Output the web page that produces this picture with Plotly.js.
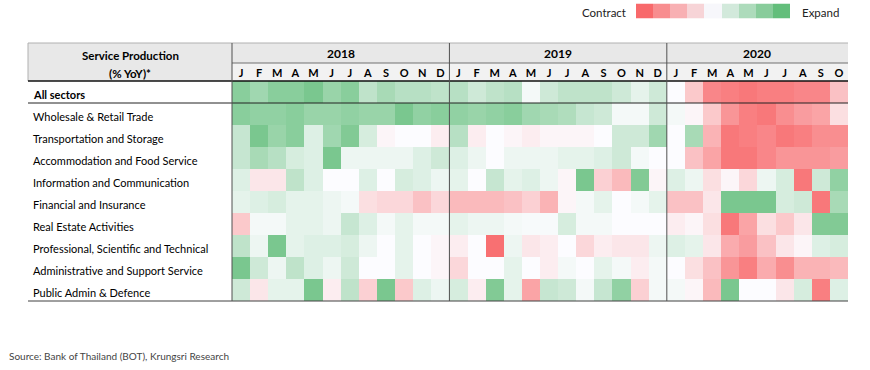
<!DOCTYPE html>
<html><head><meta charset="utf-8">
<script src="https://cdn.plot.ly/plotly-3.0.1.min.js"></script>
<style>body{margin:0;background:#fff}#chart{width:870px;height:370px}</style>
</head><body><div id="chart"></div>
<script>
// ---- data ----
const years = ['2018', '2019', '2020'];
const months2018 = ['J','F','M','A','M','J','J','A','S','O','N','D'];
const months2019 = ['J','F','M','A','M','J','J','A','S','O','N','D'];
const months2020 = ['J','F','M','A','M','J','J','A','S','O'];
const sectors = ['All sectors','Wholesale & Retail Trade','Transportation and Storage','Accommodation and Food Service','Information and Communication','Financial and Insurance','Real Estate Activities','Professional, Scientific and Technical','Administrative and Support Service','Public Admin & Defence'];

// relative growth score (-1 = strongest contraction, +1 = strongest expansion)
const allSectors      = [0.75,0.6,0.75,0.75,0.85,0.65,0.75,0.4,0.55,0.45,0.45,0.4,  0.45,0.3,0.4,0.45,0.05,0.3,0.4,0.4,0.4,0.3,0.15,0.3,  0.0,-0.35,-0.8,-0.85,-0.9,-0.85,-0.85,-0.8,-0.8,-0.4];
const wholesale       = [0.75,0.7,0.7,0.75,0.65,0.65,0.7,0.65,0.65,0.85,0.7,0.75,  0.7,0.65,0.7,0.75,0.6,0.55,0.5,0.35,0.3,0.05,0.05,0.3,  0.05,-0.05,-0.35,-0.7,-0.85,-0.9,-0.75,-0.65,-0.6,-0.2];
const transportation  = [0.35,0.85,0.65,0.75,0.2,0.6,0.8,0.25,-0.05,0.0,0.0,-0.1,  0.45,-0.1,0.0,-0.05,-0.1,-0.05,-0.05,-0.05,0.0,0.3,0.3,0.6,  0.0,0.55,-0.5,-0.9,-0.85,-0.8,-0.9,-0.85,-0.75,-0.75];
const accommodation   = [0.35,0.55,0.45,0.25,0.2,0.85,0.1,0.1,0.1,0.1,0.2,0.3,  0.2,0.1,0.0,0.1,0.1,0.1,0.15,0.15,0.2,0.3,0.05,0.0,  0.0,-0.4,-0.6,-0.9,-0.9,-0.8,-0.7,-0.7,-0.7,-0.65];
const information     = [0.2,-0.15,-0.15,0.4,0.2,0.0,0.0,0.2,0.0,0.25,0.2,0.1,  0.15,0.0,0.35,0.15,0.2,0.1,-0.05,0.85,-0.3,-0.45,0.8,-0.05,  0.2,0.1,-0.2,-0.05,-0.25,0.1,0.25,-0.9,0.3,0.7];
const financial       = [0.15,0.2,0.25,0.15,0.15,0.1,0.05,-0.2,-0.25,-0.25,-0.4,-0.25,  -0.45,-0.45,-0.45,-0.4,-0.3,-0.5,-0.05,0.05,0.15,0.0,0.05,0.15,  -0.4,-0.4,-0.15,0.85,0.85,0.85,0.25,0.3,-0.9,0.55];
const realEstate      = [-0.35,0.05,0.05,0.15,0.15,0.1,0.35,0.2,0.05,0.15,0.05,0.05,  0.15,0.1,0.1,0.05,0.03,0.03,0.25,0.05,0.05,0.0,0.0,0.0,  -0.1,-0.05,-0.2,-0.9,-0.6,-0.2,-0.35,-0.15,0.8,0.8];
const professional    = [0.4,0.1,0.85,0.15,0.2,0.2,0.25,0.1,0.0,0.15,0.0,-0.05,  -0.1,0.0,-0.95,0.1,-0.15,-0.1,0.0,-0.25,-0.1,-0.15,-0.15,0.1,  0.2,0.15,-0.15,-0.55,-0.65,-0.4,-0.15,-0.05,0.2,0.25];
const administrative  = [0.85,0.3,0.1,0.4,0.2,0.1,0.3,0.0,0.0,0.15,0.0,-0.05,  -0.25,0.0,0.0,0.15,0.0,-0.1,0.05,0.0,0.15,0.05,-0.1,0.05,  0.0,-0.2,-0.4,-0.7,-0.85,-0.55,-0.75,-0.5,-0.5,-0.45];
const publicAdmin     = [0.3,-0.15,0.15,0.15,0.85,-0.1,0.4,-0.3,0.85,-0.35,0.2,0.1,  0.25,-0.1,0.8,0.15,-0.6,0.35,0.3,0.05,0.35,0.7,-0.3,0.05,  0.05,-0.05,-0.45,0.85,0.0,0.0,-0.15,0.25,-0.85,0.2];

const legendLevels = [-1,-0.75,-0.5,-0.25,0,0.25,0.5,0.75,1];
const sourceText = 'Source: Bank of Thailand (BOT), Krungsri Research';

// ---- build ----
const W = 870, H = 370;
const px = v => v / W, py = v => (H - v) / H;
const monthsByYear = [months2018, months2019, months2020];
const xKeys = [], xText = [];
monthsByYear.forEach((ms, yi) => ms.forEach((m, mi) => { xKeys.push(years[yi] + '-' + (mi + 1)); xText.push(m); }));
const z = [allSectors, wholesale, transportation, accommodation, information, financial, realEstate, professional, administrative, publicAdmin];

const cs = [[0, '#F8696B'], [0.5, '#FCFCFF'], [1, '#63BE7B']];
const FONT = 'Lato, "Open Sans", sans-serif';

const heat = {
  type: 'heatmap', x: xKeys, y: sectors, z: z, colorscale: cs, zmin: -1, zmax: 1,
  showscale: false, xaxis: 'x', yaxis: 'y', hoverinfo: 'skip'
};
const legendHeat = {
  type: 'heatmap', x: legendLevels.map((v, i) => i), y: [0], z: [legendLevels], colorscale: [[0, '#F8696B'], [0.5, '#F7F7FB'], [1, '#63BE7B']], zmin: -1, zmax: 1,
  showscale: false, xaxis: 'x2', yaxis: 'y2', hoverinfo: 'skip'
};

// year boundaries (category index)
let acc = 0; const yearBounds = [], yearCenters = [];
monthsByYear.forEach(ms => { yearCenters.push(acc + (ms.length - 1) / 2); acc += ms.length; yearBounds.push(acc - 0.5); });

const shapes = [
  // header backgrounds
  {type:'rect', xref:'paper', yref:'paper', x0:px(28), x1:px(848), y0:py(81), y1:py(43), fillcolor:'#E8E8E8', line:{width:0}, layer:'below'},
  {type:'rect', xref:'paper', yref:'paper', x0:px(232), x1:px(848), y0:py(81), y1:py(63), fillcolor:'#F2F2F2', line:{width:0}, layer:'below'},
  // header borders
  {type:'line', xref:'paper', yref:'paper', x0:px(28), x1:px(848), y0:py(43), y1:py(43), line:{color:'#B0B0B0', width:1}},
  {type:'line', xref:'paper', yref:'paper', x0:px(28), x1:px(28), y0:py(43), y1:py(81), line:{color:'#B0B0B0', width:1}},
  {type:'line', xref:'paper', yref:'paper', x0:px(232), x1:px(848), y0:py(63), y1:py(63), line:{color:'#707070', width:1}},
  {type:'line', xref:'paper', yref:'paper', x0:px(28), x1:px(848), y0:py(81), y1:py(81), line:{color:'#111111', width:1.6}},
  {type:'line', xref:'paper', yref:'paper', x0:px(28), x1:px(848), y0:py(103), y1:py(103), line:{color:'#222222', width:1}},
  {type:'line', xref:'paper', yref:'paper', x0:px(28), x1:px(848), y0:py(301), y1:py(301), line:{color:'#404040', width:1}},
  {type:'line', xref:'paper', yref:'paper', x0:px(232), x1:px(232), y0:py(301), y1:py(43), line:{color:'#505050', width:1}}
];
yearBounds.slice(0, -1).forEach(b => shapes.push({type:'line', xref:'x', yref:'paper', x0:b, x1:b, y0:py(301), y1:py(43), line:{color:'#505050', width:1}}));

const annotations = [];
sectors.forEach((s, i) => annotations.push({
  xref:'paper', yref:'y', x:px(31), y:s, xanchor:'left', yanchor:'middle', yshift:-2, showarrow:false,
  text: i === 0 ? '<b>' + s + '</b>' : s, font:{family:FONT, size:11, color:'#000'}
}));
years.forEach((yr, i) => annotations.push({
  xref:'x', yref:'paper', x:yearCenters[i], y:py(54), xanchor:'center', yanchor:'middle', showarrow:false,
  text:'<b>' + yr + '</b>', font:{family:FONT, size:12, color:'#000'}
}));
annotations.push({xref:'paper', yref:'paper', x:px(130), y:py(55), xanchor:'center', yanchor:'middle', showarrow:false, text:'<b>Service Production</b>', font:{family:FONT, size:11.5, color:'#000'}});
annotations.push({xref:'paper', yref:'paper', x:px(130), y:py(73), xanchor:'center', yanchor:'middle', showarrow:false, text:'<b>(% YoY)*</b>', font:{family:FONT, size:11.5, color:'#000'}});
annotations.push({xref:'paper', yref:'paper', x:px(628), y:py(12), xanchor:'right', yanchor:'middle', showarrow:false, text:'Contract', font:{family:FONT, size:11.5, color:'#222'}});
annotations.push({xref:'paper', yref:'paper', x:px(800), y:py(12), xanchor:'left', yanchor:'middle', showarrow:false, text:'Expand', font:{family:FONT, size:11.5, color:'#222'}});
annotations.push({xref:'paper', yref:'paper', x:px(7), y:py(356), xanchor:'left', yanchor:'middle', showarrow:false, text:sourceText, font:{family:FONT, size:10, color:'#444'}});

const layout = {
  width: W, height: H, margin: {l:0, r:0, t:0, b:0}, paper_bgcolor:'#fff', plot_bgcolor:'#fff',
  font: {family: FONT},
  xaxis: {domain:[px(232), px(848)], side:'top', type:'category', tickvals:xKeys, ticktext:xText, ticks:'', showgrid:false, zeroline:false, showline:false, automargin:false, tickfont:{family:FONT, size:11, color:'#000', weight:'bold'}, ticklabelstandoff:1, fixedrange:true},
  yaxis: {domain:[py(301), py(81)], type:'category', autorange:'reversed', showticklabels:false, ticks:'', showgrid:false, zeroline:false, showline:false, automargin:false, fixedrange:true},
  xaxis2: {domain:[px(636), px(790)], anchor:'y2', showticklabels:false, ticks:'', showgrid:false, zeroline:false, showline:false, automargin:false},
  yaxis2: {domain:[py(18.5), py(3.5)], anchor:'x2', showticklabels:false, ticks:'', showgrid:false, zeroline:false, showline:false, automargin:false},
  shapes: shapes, annotations: annotations, showlegend:false
};
Plotly.newPlot('chart', [heat, legendHeat], layout, {displayModeBar:false, staticPlot:true});
</script></body></html>
